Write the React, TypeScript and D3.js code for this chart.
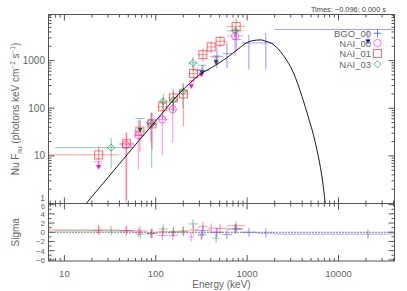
import React from 'react';
import * as d3 from 'd3';

const W = 407;
const H = 291;

const title = 'Times: \u22120.096: 0.000 s';
const xTickLabels = [10, 100, 1000, 10000];
const yTickLabels = [1, 10, 100, 1000];
const sigmaTickLabels = [6, 4, 2, 0, -2, -4, -6];
const legendNames = ['BGO_00', 'NAI_00', 'NAI_01', 'NAI_03'];

// BGO_00
const bgoE = [328, 467, 600, 760, 1045, 1600, 21000];
const bgoElo = [270, 394, 540, 690, 860, 1280, 2000];
const bgoEhi = [394, 540, 690, 860, 1280, 2000, 41000];
const bgoF = [617, 1230, 1400, 2760, 2350, 2350, 2470];
const bgoFlo = [470, 700, 700, 1570, 650, 650, 2470];
const bgoFhi = [820, 2000, 2400, 4860, 3500, 3800, 4500];
const bgoUL = [0, 0, 0, 0, 0, 0, 1];
const bgoRes = [0.4, 0, -0.5, 0.8, 0, -0.2, -0.4];

// NAI_00
const n0E = [23.7, 47, 64.5, 88, 118, 153, 245, 314, 458, 738];
const n0Elo = [21, 40, 57, 78, 105, 137, 228, 290, 420, 600];
const n0Ehi = [26, 58, 73, 100, 135, 175, 265, 340, 500, 900];
const n0F = [5.7, 17, 27, 49, 58, 95, 282, 491, 865, 3300];
const n0Flo = [4.5, 1.05, 5.2, 20, 10.5, 18.6, 282, 491, 865, 1230];
const n0Fhi = [7.5, 30, 58, 80, 80, 140, 380, 650, 1150, 4100];
const n0UL = [1, 0, 0, 0, 0, 0, 1, 1, 1, 0];
const n0Res = [0.4, 0.3, 0, -0.3, -0.7, -0.7, -1.0, -0.7, 0, 0.7];

// NAI_01
const n1E = [23.7, 48, 67, 91, 119, 156, 201, 259, 328, 404, 506, 758];
const n1Elo = [6.7, 40, 58, 80, 105, 137, 177, 228, 290, 365, 455, 600];
const n1Ehi = [40, 58, 80, 105, 137, 177, 228, 290, 365, 455, 600, 950];
const n1F = [10.5, 18, 33, 47, 107, 165, 200, 534, 1336, 1940, 2540, 5240];
const n1Flo = [6, 1.2, 12, 14, 60, 90, 42, 330, 950, 1450, 1900, 3200];
const n1Fhi = [16, 31, 55, 80, 160, 260, 330, 800, 1800, 2500, 3300, 7800];
const n1UL = [0, 0, 0, 0, 0, 0, 0, 0, 0, 0, 0, 0];
const n1Res = [0.5, 0.4, 0.3, -0.2, 0.1, 0, 0.1, 0.5, 1.3, 0.9, 0.8, 1.4];

// NAI_03
const n3E = [32.5, 67.5, 90, 121, 156, 198, 255, 320, 458, 740];
const n3Elo = [7.9, 60, 80, 107, 140, 177, 228, 290, 420, 600];
const n3Ehi = [57, 76, 100, 135, 175, 225, 290, 360, 500, 900];
const n3F = [14.9, 34, 47, 140, 150, 227, 895, 553, 920, 4200];
const n3Flo = [5.6, 34, 5.7, 90, 80, 100, 600, 553, 920, 3000];
const n3Fhi = [24, 61, 81, 200, 230, 330, 1200, 800, 1250, 5000];
const n3UL = [0, 1, 0, 0, 0, 0, 0, 1, 1, 0];
const n3Res = [0.3, -0.4, -0.3, 0.7, 0.2, 0.3, 1.8, -0.5, -1.3, 0.7];

// model curve
const modelE = [17.3, 40, 98, 185, 306, 447, 600, 794, 1000, 1259, 1413, 1585, 1862, 2512, 3221, 3981, 4699, 5572, 6871, 7161, 7943];
const modelF = [1, 6.8, 52, 214, 513, 794, 1148, 1738, 2399, 2692, 2723, 2570, 2291, 1259, 550, 178, 63, 19, 2, 1, 0.25];

const X0 = 48.5, X1 = 394.5, YT = 14.5, YM = 203.5, YB = 261;
const AX = '#555';
const TXT = '#666';
const FONT = 'Liberation Sans, Arial, Helvetica, sans-serif';

type Series = {
  name: string; color: string; ulColor: string; sym: string;
  E: number[]; Elo: number[]; Ehi: number[]; F: number[]; Flo: number[]; Fhi: number[]; UL: number[]; Res: number[];
};

const series: Series[] = [
  { name: 'BGO_00', color: '#3030ff', ulColor: '#0000cc', sym: 'plus', E: bgoE, Elo: bgoElo, Ehi: bgoEhi, F: bgoF, Flo: bgoFlo, Fhi: bgoFhi, UL: bgoUL, Res: bgoRes },
  { name: 'NAI_00', color: '#ff20ff', ulColor: '#ff00ff', sym: 'circle', E: n0E, Elo: n0Elo, Ehi: n0Ehi, F: n0F, Flo: n0Flo, Fhi: n0Fhi, UL: n0UL, Res: n0Res },
  { name: 'NAI_01', color: '#ff2020', ulColor: '#ee0000', sym: 'square', E: n1E, Elo: n1Elo, Ehi: n1Ehi, F: n1F, Flo: n1Flo, Fhi: n1Fhi, UL: n1UL, Res: n1Res },
  { name: 'NAI_03', color: '#1a8a50', ulColor: '#106a3a', sym: 'diamond', E: n3E, Elo: n3Elo, Ehi: n3Ehi, F: n3F, Flo: n3Flo, Fhi: n3Fhi, UL: n3UL, Res: n3Res },
];

function symbol(sym: string, cx: number, cy: number, color: string, key: string) {
  const op = 0.65;
  if (sym === 'circle') return <circle key={key} cx={cx} cy={cy} r={3.6} fill="none" stroke={color} strokeOpacity={op} strokeWidth={1} />;
  if (sym === 'square') return <rect key={key} x={cx - 4} y={cy - 4} width={8} height={8} fill="none" stroke={color} strokeOpacity={op} strokeWidth={1} />;
  if (sym === 'diamond') return <path key={key} d={`M${cx},${cy - 3.5}L${cx + 3.5},${cy}L${cx},${cy + 3.5}L${cx - 3.5},${cy}Z`} fill="none" stroke={color} strokeOpacity={op} strokeWidth={1} />;
  return <path key={key} d={`M${cx - 4},${cy}H${cx + 4}M${cx},${cy - 4}V${cy + 4}`} stroke={color} strokeOpacity={op} strokeWidth={1} />;
}

export default function App() {
  const x = d3.scaleLog().domain([6.7, 41000]).range([X0, X1]);
  const y = d3.scaleLog().domain([1, 9300]).range([YM, YT]);
  const ys = d3.scaleLinear().domain([-6.25, 6.25]).range([YB, YM]);

  const xTicks: { v: number; major: boolean }[] = [];
  for (let d = 0; d <= 4; d++) for (let k = 1; k <= 9; k++) {
    const v = k * Math.pow(10, d);
    if (v >= 6.7 && v <= 41000) xTicks.push({ v, major: k === 1 });
  }
  const yTicks: { v: number; major: boolean }[] = [];
  for (let d = 0; d <= 3; d++) for (let k = 1; k <= 9; k++) {
    const v = k * Math.pow(10, d);
    if (v >= 1 && v <= 9300) yTicks.push({ v, major: k === 1 });
  }
  const sTicks = d3.range(-6, 7);

  const model = d3.line<number>()
    .x((_, i) => x(modelE[i]))
    .y((_, i) => y(modelF[i]))
    .curve(d3.curveMonotoneX)(modelE);

  const els: React.ReactNode[] = [];
  series.forEach((s) => {
    s.E.forEach((e, i) => {
      const k = `${s.name}-${i}`;
      const cx = x(e);
      if (s.UL[i]) {
        const yTop = y(s.Fhi[i]);
        const yv = y(s.F[i]);
        els.push(<line key={k + 'h'} x1={x(s.Elo[i])} x2={x(s.Ehi[i])} y1={yTop} y2={yTop} stroke={s.color} strokeOpacity={0.45} />);
        els.push(<line key={k + 'v'} x1={cx} x2={cx} y1={yTop} y2={yv} stroke={s.color} strokeOpacity={0.45} />);
        els.push(<path key={k + 't'} d={`M${cx - 2.5},${yv - 2.5}L${cx + 2.5},${yv - 2.5}L${cx},${yv + 2}Z`} fill={s.ulColor} />);
      } else {
        const yv = y(s.F[i]);
        els.push(<line key={k + 'h'} x1={x(s.Elo[i])} x2={x(s.Ehi[i])} y1={yv} y2={yv} stroke={s.color} strokeOpacity={0.45} />);
        els.push(<line key={k + 'v'} x1={cx} x2={cx} y1={y(s.Flo[i])} y2={y(s.Fhi[i])} stroke={s.color} strokeOpacity={0.4} strokeWidth={1.3} />);
        if (s.sym !== 'plus') els.push(symbol(s.sym, cx, yv, s.color, k + 's'));
      }
    });
  });

  const resEls: React.ReactNode[] = [];
  series.forEach((s) => {
    s.E.forEach((e, i) => {
      const k = `r-${s.name}-${i}`;
      const cx = x(e);
      const yv = ys(s.Res[i]);
      resEls.push(<line key={k + 'h'} x1={x(s.Elo[i])} x2={x(s.Ehi[i])} y1={yv} y2={yv} stroke={s.color} strokeOpacity={0.45} />);
      resEls.push(<line key={k + 'v'} x1={cx} x2={cx} y1={ys(s.Res[i] - 1)} y2={ys(s.Res[i] + 1)} stroke={s.color} strokeOpacity={0.4} strokeWidth={1.3} />);
    });
  });

  const legendY = [33.3, 43, 53.5, 64.3];

  return (
    <svg width={W} height={H} style={{ position: 'absolute', left: 0, top: 0, background: '#fff' }} fontFamily={FONT}>
      <defs>
        <clipPath id="top"><rect x={X0} y={YT} width={X1 - X0} height={YM - YT} /></clipPath>
        <clipPath id="bot"><rect x={X0} y={YM} width={X1 - X0} height={YB - YM} /></clipPath>
      </defs>
      <rect x={0} y={0} width={W} height={H} fill="#fff" />
      <text x={386} y={12} textAnchor="end" fontSize={7.4} fill="#444">{title}</text>

      <g clipPath="url(#top)">
        {els}
        <path d={model || ''} fill="none" stroke="#000" strokeWidth={0.9} />
      </g>
      <g clipPath="url(#bot)">
        <line x1={X0} x2={X1} y1={ys(0)} y2={ys(0)} stroke="#000" strokeDasharray="1,2" />
        {resEls}
      </g>

      <rect x={X0} y={YT} width={X1 - X0} height={YM - YT} fill="none" stroke={AX} />
      <rect x={X0} y={YM} width={X1 - X0} height={YB - YM} fill="none" stroke={AX} />

      {xTicks.map((t, i) => {
        const xx = x(t.v);
        const L = t.major ? 6 : 3;
        return (
          <g key={'xt' + i} stroke={AX}>
            <line x1={xx} x2={xx} y1={YT} y2={YT + L} />
            <line x1={xx} x2={xx} y1={YM - L} y2={YM + L} />
            <line x1={xx} x2={xx} y1={YB - L} y2={YB} />
          </g>
        );
      })}
      {yTicks.map((t, i) => {
        const yy = y(t.v);
        const L = t.major ? 6 : 3;
        return (
          <g key={'yt' + i} stroke={AX}>
            <line x1={X0} x2={X0 + L} y1={yy} y2={yy} />
            <line x1={X1 - L} x2={X1} y1={yy} y2={yy} />
          </g>
        );
      })}
      {sTicks.map((v, i) => {
        const yy = ys(v);
        const L = v % 2 === 0 ? 6 : 3;
        return (
          <g key={'st' + i} stroke={AX}>
            <line x1={X0} x2={X0 + L} y1={yy} y2={yy} />
            <line x1={X1 - L} x2={X1} y1={yy} y2={yy} />
          </g>
        );
      })}

      {xTickLabels.map((v) => (
        <text key={'xl' + v} x={x(v)} y={277} textAnchor="middle" fontSize={9.6} fill={TXT}>{v}</text>
      ))}
      {yTickLabels.map((v) => (
        <text key={'yl' + v} x={45} y={v === 1 ? y(v) - 2.5 : y(v) + 3.5} textAnchor="end" fontSize={v === 1 ? 8.5 : 10} fill={TXT}>{v}</text>
      ))}
      {sigmaTickLabels.map((v) => (
        <text key={'sl' + v} x={45} y={v === 6 ? ys(v) + 4 : v === 4 ? ys(v) + 3.6 : ys(v) + 3} textAnchor="end" fontSize={v === 6 ? 7 : 8} fill={TXT}>{v < 0 ? '\u2212' + Math.abs(v) : v}</text>
      ))}

      <text transform={`translate(19,${(YT + YM) / 2}) rotate(-90)`} textAnchor="middle" fontSize={10} fill={TXT}>
        Nu F<tspan fontSize={6.5} dy={2.5}>nu</tspan><tspan dy={-2.5}>{'  (photons keV cm'}</tspan><tspan fontSize={6.5} dy={-4}>{'\u22122'}</tspan><tspan dy={4}>{' s'}</tspan><tspan fontSize={6.5} dy={-4}>{'\u22121'}</tspan><tspan dy={4}>)</tspan>
      </text>
      <text transform={`translate(19,${(YM + YB) / 2}) rotate(-90)`} textAnchor="middle" fontSize={10} fill={TXT}>Sigma</text>
      <text x={(X0 + X1) / 2} y={288} textAnchor="middle" fontSize={10} fill={TXT}>Energy (keV)</text>

      {legendNames.map((n, i) => (
        <g key={'lg' + n}>
          <text x={371} y={legendY[i] + 3.5} textAnchor="end" fontSize={9.5} fill={TXT}>{n}</text>
          {symbol(series[i].sym, 377.5, legendY[i], series[i].color, 'ls' + i)}
        </g>
      ))}
    </svg>
  );
}
